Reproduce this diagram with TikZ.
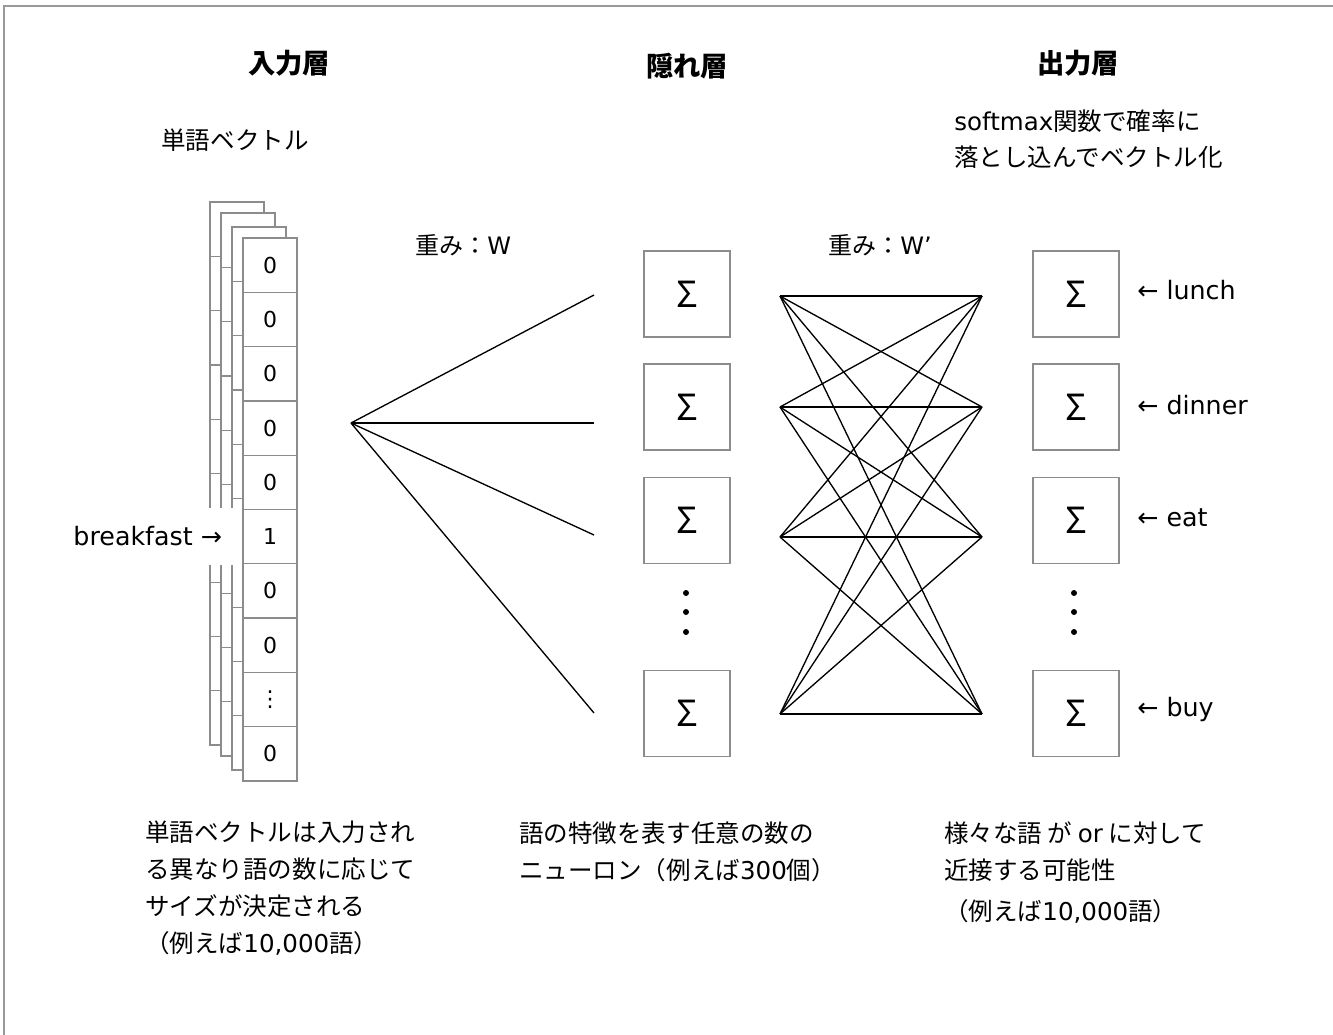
\documentclass[tikz,border=0pt]{standalone}
\usepackage{fontspec}
\setmainfont{Noto Sans CJK JP}
\newfontfamily\lat{DejaVu Sans}
\begin{document}
\begin{tikzpicture}[x=0.75pt,y=-0.75pt,
  frameline/.style={draw=black!40, line width=1pt},
  layerbox/.style={draw=black!45, line width=0.9pt, fill=white},
  layerline/.style={draw=black!45, line width=0.9pt},
  cellbox/.style={draw=black!45, line width=0.9pt, fill=white, minimum width=40.5pt, minimum height=40.7pt, inner sep=0pt, outer sep=0pt, font=\lat\fontsize{16.5}{18}\selectfont},
  sumbox/.style={draw=black!45, line width=0.9pt, minimum size=64.5pt, inner sep=0pt, font=\fontsize{27}{27}\selectfont},
  wire/.style={draw=black, line width=1pt},
  lbl/.style={font=\fontsize{18}{27}\selectfont, inner sep=0pt},
  body/.style={font=\fontsize{18.4}{27.75}\selectfont, inner sep=0pt, align=left},
  head/.style={font=\bfseries\fontsize{20.5}{24}\selectfont, inner sep=0pt},
  dotmark/.style={circle, fill=black, inner sep=0pt, minimum size=4.5pt}
]
\useasboundingbox (0,0) rectangle (1333,1034);
\fill[white] (0,0) rectangle (1333,1034);
% frame
\draw[frameline] (4,1040) -- (4,6) -- (1340,6);

% headers
\node[head] (hin) at (289,63) {入力層};
\node[head] (hhid) at (687,66) {隠れ層};
\node[head] (hout) at (1078,63) {出力層};

\node[body] (vecl) at (235,140) {単語ベクトル};
\node[body, anchor=west, font=\fontsize{18.4}{27}\selectfont] (soft) at (954,139) {{\lat softmax}関数で確率に\\落とし込んでベクトル化};

\node[lbl, anchor=west] (wa) at (415,245) {重み：{\lat W}};
\node[lbl, anchor=west] (wb) at (828,245) {重み：{\lat W’}};

% back layers of the stacked word vectors
\foreach \lx/\ty in {210/202,221/213,232/227}{
  \filldraw[layerbox] (\lx,\ty) rectangle ++(54,543);
  \foreach \i in {1,...,9}
    \draw[layerline] (\lx,{\ty+54.3*\i}) -- ++(54,0);
}

% breakfast label (white background covers the back layers)
\node[lbl, font=\lat\fontsize{19}{27}\selectfont, fill=white, anchor=east, minimum height=42.75pt, inner xsep=15.5pt] (bf) at (243,536) {breakfast →};

% front vector
\foreach \v [count=\i] in {0,0,0,0,0,1,0,0,⋮,0}
  \node[cellbox] (c\i) at (270,{238+54.3*(\i-0.5)}) {\v};

% hidden layer
\node[sumbox] (h1) at (687,294) {Σ};
\node[sumbox] (h2) at (687,407) {Σ};
\node[sumbox] (h3) at (687,520.5) {Σ};
\node[sumbox] (h4) at (687,713.5) {Σ};
\node[dotmark] (hd1) at (686,593) {};
\node[dotmark] (hd2) at (686,612) {};
\node[dotmark] (hd3) at (686,632) {};

% output layer
\node[sumbox] (o1) at (1076,294) {Σ};
\node[sumbox] (o2) at (1076,407) {Σ};
\node[sumbox] (o3) at (1076,520.5) {Σ};
\node[sumbox] (o4) at (1076,713.5) {Σ};
\node[dotmark] (od1) at (1074,593) {};
\node[dotmark] (od2) at (1074,612) {};
\node[dotmark] (od3) at (1074,632) {};

\tikzset{arrlbl/.style={lbl, anchor=west, font=\lat\fontsize{19}{27}\selectfont}}
\node[arrlbl] (l1) at (1137,290) {← lunch};
\node[arrlbl] (l2) at (1137,405) {← dinner};
\node[arrlbl] (l3) at (1137,518) {← eat};
\node[arrlbl] (l4) at (1137,710) {← buy};

% fan of weights W
\coordinate (f0) at (351,423);
\coordinate (f1) at (594,295);
\coordinate (f2) at (594,423);
\coordinate (f3) at (594,535);
\coordinate (f4) at (594,713);
\foreach \j in {1,...,4} \draw[wire] (f0) -- (f\j);

% full connections W'
\coordinate (a1) at (780,296);
\coordinate (a2) at (780,407);
\coordinate (a3) at (780,537);
\coordinate (a4) at (780,714);
\coordinate (b1) at (982,296);
\coordinate (b2) at (982,407);
\coordinate (b3) at (982,537);
\coordinate (b4) at (982,714);
\foreach \i in {1,...,4}
  \foreach \j in {1,...,4}
    \draw[wire] (a\i) -- (b\j);

% bottom descriptions
\node[body, anchor=west] (dl) at (145,888.5) {単語ベクトルは入力され\\る異なり語の数に応じて\\サイズが決定される\\（例えば{\lat 10,000}語）};
\node[body, anchor=west] (dm) at (519,851.5) {語の特徴を表す任意の数の\\ニューロン（例えば{\lat 300}個）};
\node[body, anchor=west] (dr) at (944,872.5) {様々な語 が {\lat or} に対して\\近接する可能性\\[3pt]（例えば{\lat 10,000}語）};
\end{tikzpicture}
\end{document}
